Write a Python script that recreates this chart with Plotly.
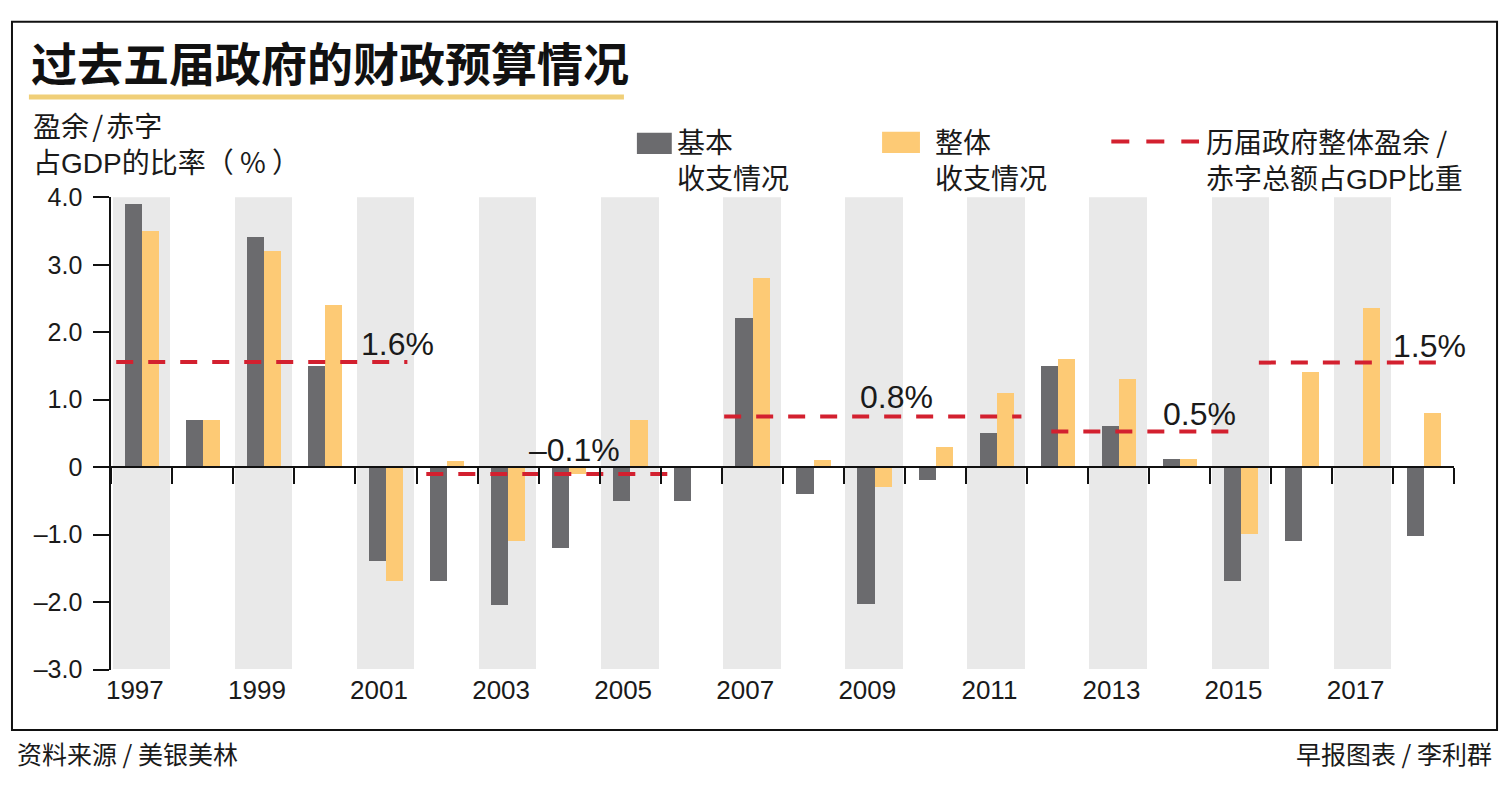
import plotly.graph_objects as go

# ---------------- data ----------------
years = list(range(1997, 2019))
basic_balance = [3.9, 0.7, 3.4, 1.5, -1.4, -1.7, -2.05, -1.2, -0.5, -0.5, 2.2,
                 -0.4, -2.04, -0.2, 0.5, 1.5, 0.6, 0.12, -1.7, -1.1, 0.0, -1.03]
overall_balance = [3.5, 0.7, 3.2, 2.4, -1.7, 0.08, -1.1, -0.1, 0.7, 0.0, 2.8,
                   0.1, -0.3, 0.3, 1.1, 1.6, 1.3, 0.12, -1.0, 1.4, 2.36, 0.8]
term_avg = [1.56, -0.1, 0.75, 0.53, 1.55]
term_text = ["1.6%", "–0.1%", "0.8%", "0.5%", "1.5%"]
term_from = [1996.58, 2001.66, 2006.54, 2011.90, 2015.30]
term_to = [2001.35, 2005.83, 2011.41, 2014.95, 2018.31]
label_x = [2000.56, 2003.31, 2008.73, 2013.69, 2017.47]
label_y = [1.83, 0.25, 1.04, 0.79, 1.80]
ytick_vals = [-3, -2, -1, 0, 1, 2, 3, 4]
ytick_text = ["–3.0", "–2.0", "–1.0", "0", "1.0", "2.0", "3.0", "4.0"]
xlabel_years = list(range(1997, 2019, 2))

# ---------------- style ----------------
W, H = 1507, 800
GRAY = "#6b6b6e"
YELLOW = "#fdca75"
BAND = "#e9e9e9"
RED = "#d3202f"
LATIN = "Liberation Sans, Arial, Noto Sans CJK SC"
CJK = "Noto Sans CJK SC, Liberation Sans"
SP = "<span style='font-size:14px'> </span>"
GDP = "<span style='font-family:Liberation Sans'>GDP</span>"


def px(x):
    return x / W


def py(y):
    return 1 - y / H


x_dom = [px(106.7), px(1454)]
y_dom = [py(679.3), py(190)]
ymin, ymax = -3, 4
zero_pos = y_dom[0] + (0 - ymin) / (ymax - ymin) * (y_dom[1] - y_dom[0])

fig = go.Figure()

# background bands for odd years
fig.add_trace(go.Bar(
    x=xlabel_years, y=[ymax - ymin] * len(xlabel_years), base=ymin,
    marker=dict(color=BAND, line=dict(width=0)),
    offset=-0.47, width=0.94, showlegend=False, hoverinfo="skip"))

fig.add_trace(go.Bar(
    x=years, y=basic_balance, name="基本收支情况",
    marker=dict(color=GRAY, line=dict(width=0)),
    offset=-0.27, width=0.28, showlegend=False))
fig.add_trace(go.Bar(
    x=years, y=overall_balance, name="整体收支情况",
    marker=dict(color=YELLOW, line=dict(width=0)),
    offset=0.01, width=0.28, showlegend=False))

for a, b, v in zip(term_from, term_to, term_avg):
    fig.add_trace(go.Scatter(
        x=[a, b], y=[v, v], mode="lines",
        line=dict(color=RED, width=4, dash="17px,15px"),
        showlegend=False, hoverinfo="skip"))

# dummy trace so the zero-line axis is drawn
fig.add_trace(go.Scatter(x=[None], y=[None], xaxis="x2", showlegend=False,
                         hoverinfo="skip"))

annotations = []
for lx, ly, t in zip(label_x, label_y, term_text):
    annotations.append(dict(x=lx, y=ly, xref="x", yref="y", text=t,
                            showarrow=False, xanchor="left", yanchor="middle",
                            font=dict(family=LATIN, size=32, color="#1a1a1a")))

# title
annotations.append(dict(x=px(24), y=py(49), xref="paper", yref="paper",
                        text="<b>过去五届政府的财政预算情况</b>", showarrow=False,
                        xanchor="left", yanchor="middle",
                        font=dict(family=CJK, size=46, color="#111111")))
# y axis title (two lines)
annotations.append(dict(x=px(27), y=py(174), xref="paper", yref="paper",
                        text="盈余" + SP + "/" + SP + "赤字<br>占" + GDP + "的比率（ % ）",
                        showarrow=False, xanchor="left", yanchor="bottom",
                        align="left", borderpad=0,
                        font=dict(family=CJK, size=28, color="#1a1a1a")))
# legend texts
for lx, t in [(672, "基本<br>收支情况"), (931, "整体<br>收支情况"),
              (1203, "历届政府整体盈余 /<br>赤字总额占" + GDP + "比重")]:
    annotations.append(dict(x=px(lx), y=py(150), xref="paper", yref="paper",
                            text=t, showarrow=False, xanchor="left",
                            yanchor="middle", align="left",
                            font=dict(family=CJK, size=28, color="#1a1a1a")))
# footer
annotations.append(dict(x=px(10), y=py(766), xref="paper", yref="paper",
                        text="资料来源 / 美银美林", showarrow=False,
                        xanchor="left", yanchor="middle",
                        font=dict(family=CJK, size=25, color="#1a1a1a")))
annotations.append(dict(x=px(1494), y=py(766), xref="paper", yref="paper",
                        text="早报图表 / 李利群", showarrow=False,
                        xanchor="right", yanchor="middle",
                        font=dict(family=CJK, size=25, color="#1a1a1a")))

shapes = [
    # border
    dict(type="rect", xref="paper", yref="paper", x0=px(7), x1=px(1497),
         y0=py(742), y1=py(8), line=dict(color="#111111", width=2)),
    # title underline
    dict(type="line", xref="paper", yref="paper", x0=px(24), x1=px(621),
         y0=py(86), y1=py(86), line=dict(color="#f0cf78", width=5)),
    # legend swatches
    dict(type="rect", xref="paper", yref="paper", x0=px(634), x1=px(669),
         y0=py(145), y1=py(123), fillcolor=GRAY, line=dict(width=0)),
    dict(type="rect", xref="paper", yref="paper", x0=px(880), x1=px(918),
         y0=py(144), y1=py(122), fillcolor=YELLOW, line=dict(width=0)),
    dict(type="line", xref="paper", yref="paper", x0=px(1110), x1=px(1198),
         y0=py(132), y1=py(132), line=dict(color=RED, width=4, dash="18px,17px")),
]

fig.update_layout(
    width=W, height=H,
    margin=dict(l=0, r=0, t=0, b=0),
    paper_bgcolor="white", plot_bgcolor="rgba(0,0,0,0)",
    barmode="overlay", bargap=0,
    showlegend=False,
    xaxis=dict(domain=x_dom, range=[1996.5, 2018.5], anchor="y",
               tickmode="array", tickvals=xlabel_years,
               ticktext=[str(y) for y in xlabel_years],
               ticks="", showline=False, showgrid=False, zeroline=False,
               tickfont=dict(family=LATIN, size=26, color="#1a1a1a"),
               ticklabelshift=-7, ticklabelstandoff=2, fixedrange=True),
    xaxis2=dict(domain=x_dom, range=[1996.5, 2018.5], overlaying="x",
                anchor="free", position=zero_pos, side="bottom",
                tickmode="array",
                tickvals=[y + 0.5 for y in [1996] + years],
                showticklabels=False, ticks="outside", ticklen=16,
                tickwidth=2, tickcolor="#111111",
                showline=True, linecolor="#111111", linewidth=2,
                showgrid=False, zeroline=False, fixedrange=True),
    yaxis=dict(domain=y_dom, range=[ymin, ymax], anchor="x",
               tickmode="array", tickvals=ytick_vals, ticktext=ytick_text,
               ticks="outside", ticklen=16, tickwidth=2, tickcolor="#111111",
               showline=True, linecolor="#111111", linewidth=2,
               showgrid=False, zeroline=False, ticklabelstandoff=6,
               tickfont=dict(family=LATIN, size=25, color="#1a1a1a"),
               fixedrange=True),
    annotations=annotations,
    shapes=shapes,
)

fig.write_html("out.html")
